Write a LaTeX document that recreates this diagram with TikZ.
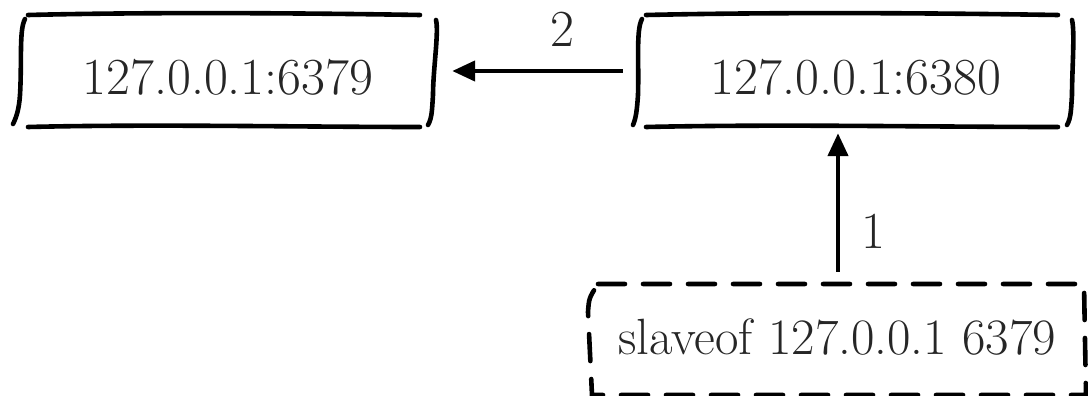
\documentclass[tikz,border=0pt]{standalone}
\usetikzlibrary{arrows.meta}
\begin{document}
\begin{tikzpicture}[x=1pt,y=-1pt,
  hand/.style={line width=4.6pt, line cap=round, black},
  txt/.style={font=\fontsize{52}{56}\selectfont, text=black!85, inner sep=0pt},
  boxnode/.style={draw=none, inner sep=0pt},
  arr/.style={line width=4.4pt, black, -{Triangle[length=23pt,width=20pt]}},
  dashbox/.style={hand, dash pattern=on 27pt off 18pt}
]
\useasboundingbox (0,0) rectangle (1088,396);

% invisible box nodes
\node[boxnode, minimum width=424pt, minimum height=112pt] (A) at (225,71) {};
\node[boxnode, minimum width=444pt, minimum height=112pt] (B) at (855,71) {};
\node[boxnode, minimum width=496pt, minimum height=111pt] (C) at (838,339.5) {};

% texts
\node[txt] (ta) at (228,77) {127.0.0.1:6379};
\node[txt] (tb) at (856,77) {127.0.0.1:6380};
\node[txt, font=\fontsize{51}{55}\selectfont] (tc) at (837,337) {slaveof 127.0.0.1 6379};

% box A hand-drawn outline
\draw[hand] (28,15) .. controls (150,12) and (300,13) .. (420,15);
\draw[hand] (28,127) .. controls (150,124) and (300,127) .. (420,127);
\draw[hand] (25,19) .. controls (19,30) and (22,60) .. (20,95) .. controls (19,110) and (16,118) .. (13,124);
\draw[hand] (436,20) .. controls (439,32) and (433,70) .. (433,95) .. controls (432,110) and (432,118) .. (428,125);

% box B hand-drawn outline
\draw[hand] (646,15) .. controls (780,12) and (930,13) .. (1058,15);
\draw[hand] (646,127) .. controls (780,124) and (930,127) .. (1058,127);
\draw[hand] (642,19) .. controls (636,30) and (639,60) .. (638,95) .. controls (637,110) and (636,118) .. (633,125);
\draw[hand] (1072,20) .. controls (1075,32) and (1072,70) .. (1072,95) .. controls (1071,110) and (1071,118) .. (1067,125);

% dashed box C
\draw[dashbox] (598,284) -- (1084,284) -- (1086,395) -- (592,395) -- (588,312) .. controls (589,298) .. (598,284);

% arrows
\draw[arr, shorten <=10pt, shorten >=15pt] (B.west) -- node[txt, pos=0.362, above=22pt] (l2) {2} (A.east);
\draw[arr, shorten <=12pt, shorten >=6pt] (C.north) -- node[txt, pos=0.338, right=21pt] (l1) {1} (C.north |- B.south);
\end{tikzpicture}
\end{document}
